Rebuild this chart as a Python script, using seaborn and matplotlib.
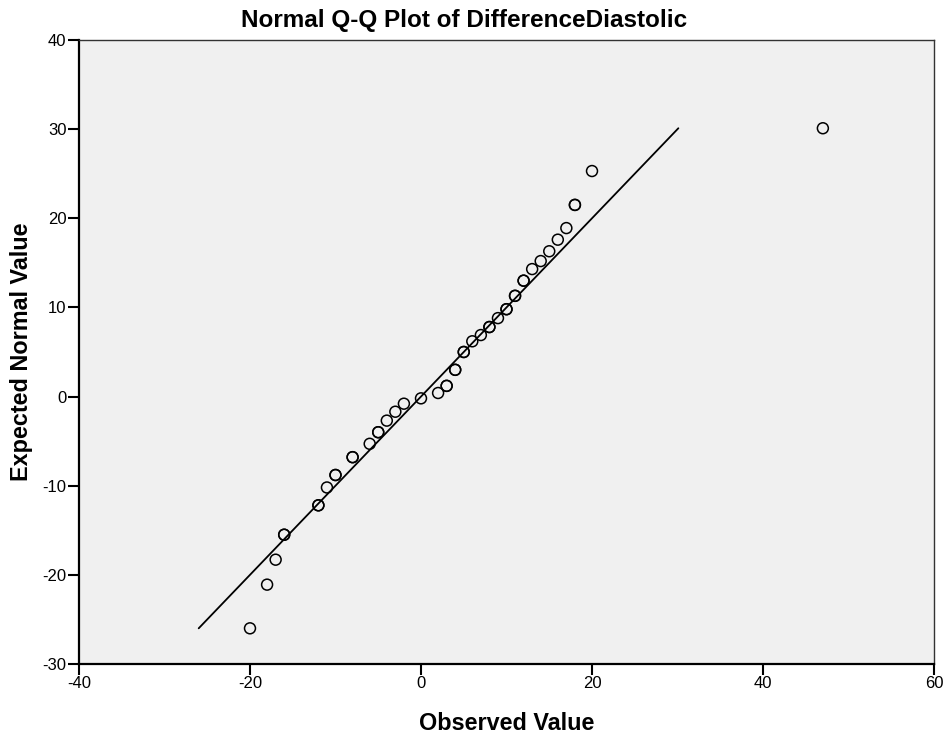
import matplotlib
matplotlib.use("Agg")
import matplotlib.pyplot as plt
import seaborn as sns
import pandas as pd

# Observed values (duplicates appear as overlapping, bolder circles)
observed = [-20, -18, -17, -16, -16, -12, -12, -11, -10, -10, -8, -8, -6, -5, -5,
            -4, -3, -2, 0, 2, 3, 3, 4, 4, 5, 5, 6, 7, 8, 8, 9, 10, 10, 11, 11,
            12, 12, 13, 14, 15, 16, 17, 18, 18, 20, 47]
expected = [-26.0, -21.1, -18.3, -15.5, -15.5, -12.2, -12.2, -10.2, -8.8, -8.8,
            -6.8, -6.8, -5.3, -4.0, -4.0, -2.7, -1.7, -0.8, -0.2, 0.4, 1.2, 1.2,
            3.0, 3.0, 5.0, 5.0, 6.2, 6.9, 7.8, 7.8, 8.8, 9.8, 9.8, 11.3, 11.3,
            13.0, 13.0, 14.3, 15.2, 16.3, 17.6, 18.9, 21.5, 21.5, 25.3, 30.1]
ref_line = [-26.0, 30.1]

x_ticks = [-40, -20, 0, 20, 40, 60]
y_ticks = [-30, -20, -10, 0, 10, 20, 30, 40]

df = pd.DataFrame({"Observed Value": observed, "Expected Normal Value": expected})
line_df = pd.DataFrame({"x": ref_line, "y": ref_line})

sns.set_style("white", {"axes.facecolor": "#F0F0F0"})
plt.rcParams["font.family"] = ["Liberation Sans", "DejaVu Sans"]
plt.rcParams["axes.unicode_minus"] = False
plt.rcParams["text.color"] = "black"
plt.rcParams["axes.labelcolor"] = "black"
plt.rcParams["xtick.color"] = "black"
plt.rcParams["ytick.color"] = "black"

fig = plt.figure(figsize=(9.47, 7.38), dpi=100)
ax = fig.add_axes([0.0834, 0.1003, 0.9029, 0.8455])

sns.lineplot(data=line_df, x="x", y="y", ax=ax, color="black", linewidth=1.3,
             estimator=None, sort=False)
sns.scatterplot(data=df, x="Observed Value", y="Expected Normal Value", ax=ax,
                marker="o", s=62, facecolor="none", edgecolor="black",
                linewidth=1.1, zorder=3)

ax.set_xlim(-40, 60)
ax.set_ylim(-30, 40)
ax.set_xticks(x_ticks)
ax.set_yticks(y_ticks)
ax.tick_params(axis="both", direction="out", length=8, width=1.5, colors="black",
               labelsize=12, pad=1, bottom=True, left=True, top=False, right=False)

for side in ["left", "bottom"]:
    ax.spines[side].set_color("black")
    ax.spines[side].set_linewidth(1.6)
for side in ["top", "right"]:
    ax.spines[side].set_visible(True)
    ax.spines[side].set_color("#333333")
    ax.spines[side].set_linewidth(1.0)

fig.text(464 / 947, 1 - 20 / 738, "Normal Q-Q Plot of DifferenceDiastolic",
         fontsize=17.5, fontweight="bold", ha="center", va="center", color="black")
ax.set_xlabel("Observed Value", fontsize=16.8, fontweight="bold", labelpad=15)
ax.set_ylabel("Expected Normal Value", fontsize=16.8, fontweight="bold", labelpad=7)

fig.savefig("out.png", dpi=100)
